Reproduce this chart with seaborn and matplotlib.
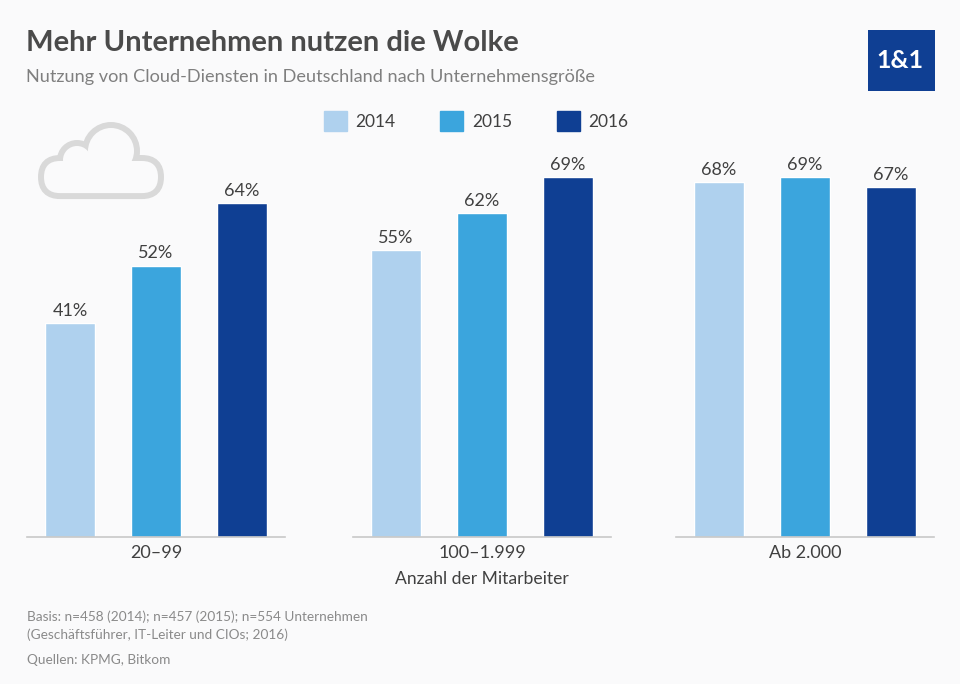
import pandas as pd
import matplotlib
matplotlib.use('Agg')
import matplotlib.pyplot as plt
import matplotlib.patches as mpatches
import seaborn as sns

years = ['2014', '2015', '2016']
groups = ['20–99', '100–1.999', 'Ab 2.000']
values_small = [41, 52, 64]
values_mid = [55, 62, 69]
values_large = [68, 69, 67]
colors = ['#AFD1EE', '#3BA5DD', '#0F3F93']

BG = '#FAFAFB'
sns.set_theme(style='white', rc={'figure.facecolor': BG, 'axes.facecolor': 'none'})
plt.rcParams['font.family'] = ['Lato', 'DejaVu Sans']

W, H = 960, 684
fig = plt.figure(figsize=(W / 100, H / 100), dpi=100)

# overlay in pixel coords for texts, logo, cloud
bg = fig.add_axes([0, 0, 1, 1], zorder=0)
bg.set_xlim(0, W)
bg.set_ylim(H, 0)
bg.axis('off')

# panels
panel_left = [27, 353, 676]
panel_w = 258
base_y = 537
top_y = 137
px_per_pct = 5.22


def draw_panel(left, vals, group):
    ax = fig.add_axes([left / W, 1 - base_y / H, panel_w / W, (base_y - top_y) / H], zorder=2)
    df = pd.DataFrame({'year': years, 'value': vals})
    sns.barplot(data=df, x='year', y='value', hue='year', palette=colors, width=0.57,
                dodge=False, legend=False, saturation=1, ax=ax)
    ax.set_xlim(-0.5, 2.5)
    ax.set_ylim(0, (base_y - top_y) / px_per_pct)
    for c in ax.containers:
        ax.bar_label(c, fmt='%d%%', padding=3, fontsize=13, color='#404040')
    ax.set_xticks([1])
    ax.set_xticklabels([group], fontsize=13, color='#404040')
    ax.set_yticks([])
    ax.set_xlabel('')
    ax.set_ylabel('')
    ax.tick_params(axis='x', length=0, pad=6)
    sns.despine(ax=ax, left=True)
    ax.spines['bottom'].set_color('#C8C8C8')
    ax.spines['bottom'].set_linewidth(1.2)
    return ax


axes = [draw_panel(panel_left[0], values_small, groups[0]),
        draw_panel(panel_left[1], values_mid, groups[1]),
        draw_panel(panel_left[2], values_large, groups[2])]
axes[1].set_xlabel('Anzahl der Mitarbeiter', fontsize=12.6, color='#404040', labelpad=7)

# header
bg.text(26, 43, 'Mehr Unternehmen nutzen die Wolke', fontsize=21, fontweight='bold',
        color='#4A4A4A', va='center', ha='left')
bg.text(26, 77, 'Nutzung von Cloud-Diensten in Deutschland nach Unternehmensgröße',
        fontsize=13.1, color='#7F7F7F', va='center', ha='left')

# logo
bg.add_patch(mpatches.Rectangle((868, 30), 67, 61, color='#0F3F93', lw=0))
bg.text(900, 61, '1&1', fontsize=18, fontweight='bold', color='white', ha='center', va='center')

# legend
handles = [mpatches.Patch(color=c, label=y) for c, y in zip(colors, years)]
fig.legend(handles=handles, ncols=3, frameon=False, loc='center left',
           bbox_to_anchor=(308 / W, 1 - 121 / H), handlelength=1.32, handleheight=1.38,
           handletextpad=0.52, columnspacing=2.56, fontsize=12.5, labelcolor='#404040')

# cloud icon
cloud = '#D9D9D9'
shapes = [
    lambda **k: mpatches.Circle((111, 151), 23, **k),
    lambda **k: mpatches.Circle((77, 160), 14, **k),
    lambda **k: mpatches.FancyBboxPatch((60, 177), 82, 0.1, boxstyle='round,pad=16,rounding_size=16', **k),
]
for s in shapes:
    bg.add_patch(s(facecolor=cloud, edgecolor=cloud, lw=8.6))
for s in shapes:
    bg.add_patch(s(facecolor=BG, edgecolor=BG, lw=0))

# footer
foot = '#8A8A8A'
bg.text(27, 617, 'Basis: n=458 (2014); n=457 (2015); n=554 Unternehmen', fontsize=9.85, color=foot, va='center')
bg.text(27, 635, '(Geschäftsführer, IT-Leiter und CIOs; 2016)', fontsize=9.85, color=foot, va='center')
bg.text(27, 660, 'Quellen: KPMG, Bitkom', fontsize=9.85, color=foot, va='center')

fig.savefig('out.png', dpi=100, facecolor=BG)
